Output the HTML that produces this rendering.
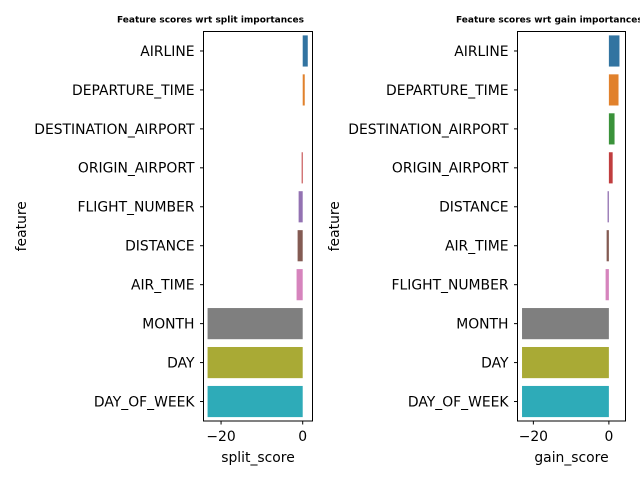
<!DOCTYPE html>
<html><head><meta charset="utf-8"><style>
body{margin:0;background:#fff}
svg text{font-family:"DejaVu Sans","Liberation Sans",sans-serif;fill:#000}
</style></head><body>
<svg id="chart" width="640" height="480" xmlns="http://www.w3.org/2000/svg"></svg>
<script>
const leftCategories=["AIRLINE","DEPARTURE_TIME","DESTINATION_AIRPORT","ORIGIN_AIRPORT","FLIGHT_NUMBER","DISTANCE","AIR_TIME","MONTH","DAY","DAY_OF_WEEK"];
const leftValues=[1.24,0.5,0,-0.25,-1.0,-1.25,-1.5,-23.3,-23.3,-23.3];
const rightCategories=["AIRLINE","DEPARTURE_TIME","DESTINATION_AIRPORT","ORIGIN_AIRPORT","DISTANCE","AIR_TIME","FLIGHT_NUMBER","MONTH","DAY","DAY_OF_WEEK"];
const rightValues=[2.8,2.55,1.5,1.0,-0.35,-0.6,-0.87,-23.0,-23.0,-23.0];
const xTicks=[-20,0];
const palette=["#3274a1","#e1812c","#3a923a","#c03d3e","#9372b2","#845b53","#d684bd","#7f7f7f","#a9aa35","#2eabb8"];
const svg=document.getElementById('chart');
const NS="http://www.w3.org/2000/svg";
function mk(tag,attrs,parent,text){const e=document.createElementNS(NS,tag);for(const k in attrs)e.setAttribute(k,attrs[k]);if(text!==undefined)e.textContent=text;(parent||svg).appendChild(e);return e;}
function panel(cfg){
  const g=mk('g',{});
  
  
  const L=cfg.left,R=cfg.right,T=31.5,B=421;
  const n=cfg.cats.length,band=(B-T)/n;
  const x=v=>L+(v-cfg.xmin)/(cfg.xmax-cfg.xmin)*(R-L);
  const y=i=>T+band*(i+0.5);
  cfg.vals.forEach((v,i)=>{
    const x0=x(Math.min(0,v)),x1=x(Math.max(0,v));
    const r=mk('rect',{x:x0,y:y(i)-band*0.4,width:Math.max(0,x1-x0),height:band*0.8,fill:palette[i]},g);
    
    
  });
  mk('rect',{x:L,y:T,width:R-L,height:B-T,fill:'none',stroke:'#000','stroke-width':1},g);
  cfg.cats.forEach((c,i)=>{
    mk('line',{x1:L-3.5,x2:L,y1:y(i),y2:y(i),stroke:'#000'},g);
    const t=mk('text',{x:L-9,y:y(i)+4.9,'text-anchor':'end','font-size':13.9},g,c);
    
    
  });
  xTicks.forEach(v=>{
    mk('line',{x1:x(v),x2:x(v),y1:B,y2:B+3.5,stroke:'#000'},g);
    const t=mk('text',{x:x(v),y:B+20,'text-anchor':'middle','font-size':13.9},g,v<0?'\u2212'+Math.abs(v):String(v));
    
    
  });
  const xl=mk('text',{x:(L+R)/2,y:462,'text-anchor':'middle','font-size':13.9},g,cfg.xlabel);
  
  
  const yl=mk('text',{x:cfg.ylabelX,y:(T+B)/2,'text-anchor':'middle','font-size':13.9,transform:'rotate(-90 '+cfg.ylabelX+' '+(T+B)/2+')'},g,'feature');
  
  
  const tt=mk('text',{x:cfg.titleX,y:22.5,'text-anchor':'start','font-size':9,'font-weight':'bold'},g,cfg.title);
  
  
}
panel({name:'split-importance-panel',left:203.5,right:312.5,xmin:-24.3,xmax:2.4,cats:leftCategories,vals:leftValues,xlabel:'split_score',ylabelX:26,titleX:117,title:'Feature scores wrt split importances'});
panel({name:'gain-importance-panel',left:517.5,right:625.5,xmin:-24.2,xmax:4.4,cats:rightCategories,vals:rightValues,xlabel:'gain_score',ylabelX:339,titleX:456,title:'Feature scores wrt gain importances'});
</script>
</body></html>
